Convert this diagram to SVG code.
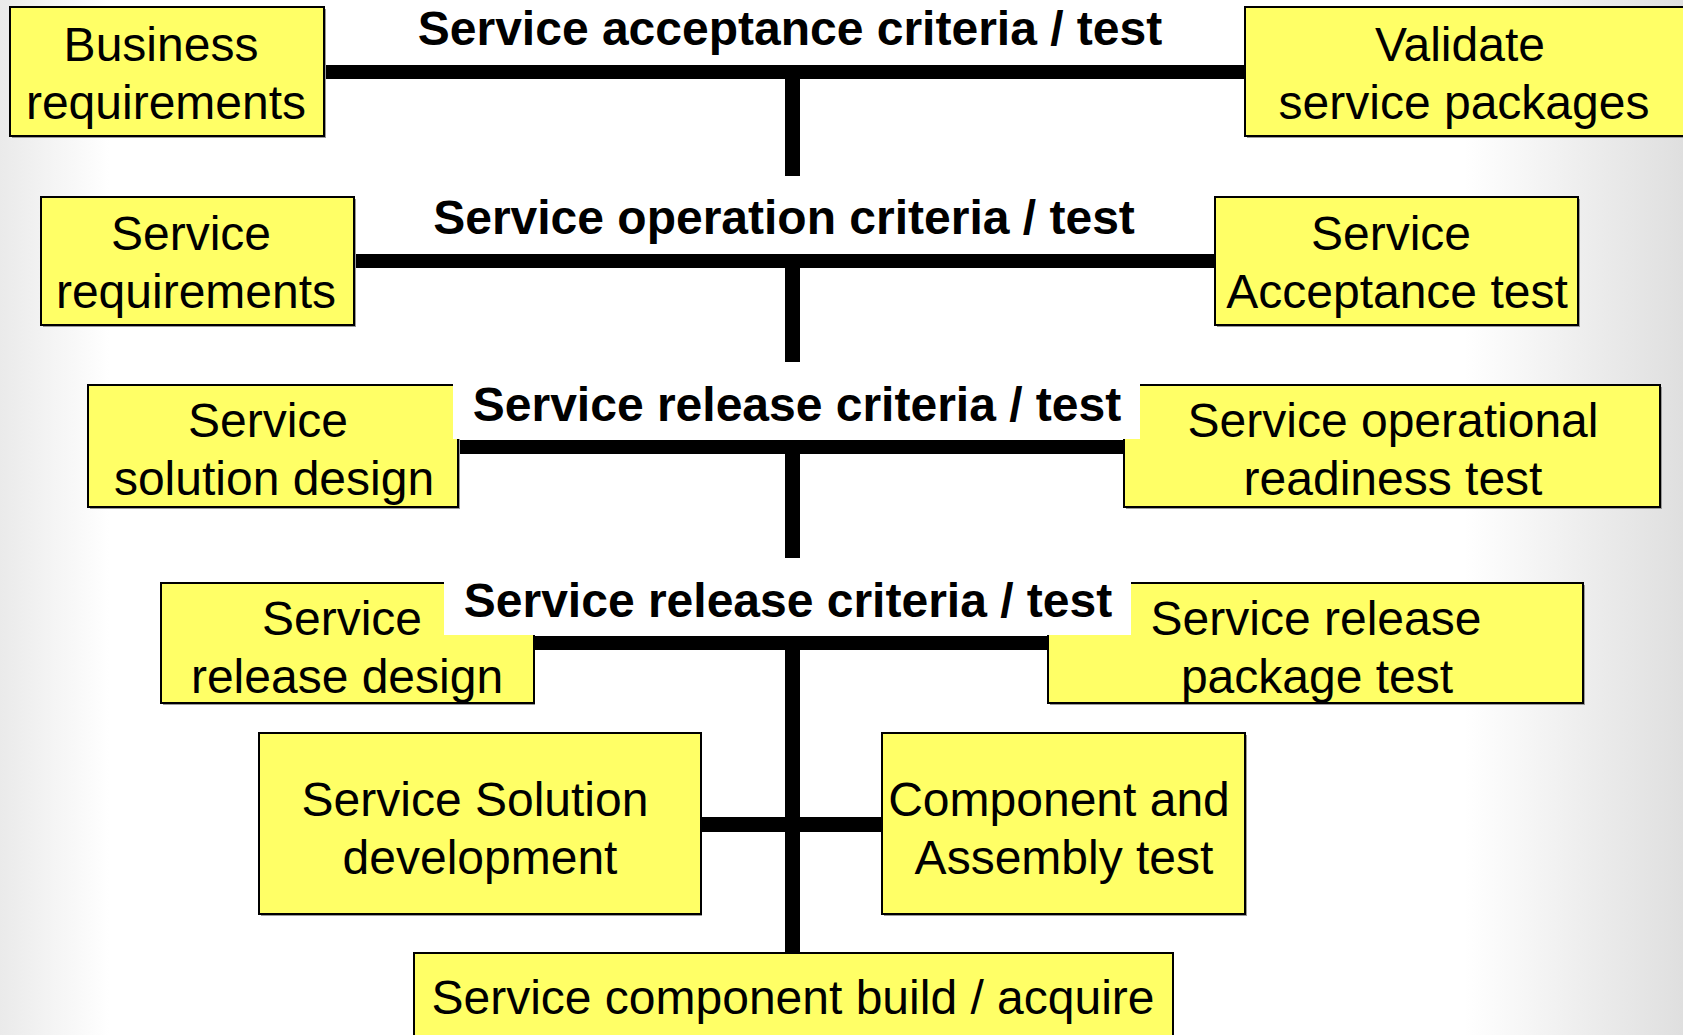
<svg xmlns="http://www.w3.org/2000/svg" width="1683" height="1035" viewBox="0 0 1683 1035">
  <defs>
    <linearGradient id="bg" x1="0" y1="0" x2="1683" y2="0" gradientUnits="userSpaceOnUse">
      <stop offset="0" stop-color="#eaeaea"/>
      <stop offset="0.065" stop-color="#ffffff"/>
      <stop offset="0.87" stop-color="#ffffff"/>
      <stop offset="1" stop-color="#dfdfdf"/>
    </linearGradient>
    <style>
      .box { fill: #ffff66; stroke: #000; stroke-width: 2; }
      .shadow { fill: #9a9a9a; }
      .t { font-family: "Liberation Sans", Arial, sans-serif; font-size: 48px; fill: #000; text-anchor: middle; }
      .title { font-family: "Liberation Sans", Arial, sans-serif; font-size: 48px; font-weight: bold; fill: #000; text-anchor: middle; }
      .bar { fill: #000; }
      .lblbg { fill: #fff; }
    </style>
  </defs>

  <!-- page background -->
  <rect x="0" y="0" width="1683" height="1035" fill="url(#bg)"/>

  <!-- connectors: horizontal bars and the central trunk -->
  <g id="connectors">
    <rect class="bar" x="324" y="65" width="921" height="14"/>
    <rect class="bar" x="785" y="79" width="15" height="97"/>
    <rect class="bar" x="354" y="254" width="861" height="14"/>
    <rect class="bar" x="785" y="268" width="15" height="94"/>
    <rect class="bar" x="458" y="440" width="666" height="14"/>
    <rect class="bar" x="785" y="454" width="15" height="104"/>
    <rect class="bar" x="534" y="636" width="514" height="14"/>
    <rect class="bar" x="701" y="817" width="181" height="15"/>
    <rect class="bar" x="785" y="650" width="15" height="303"/>
  </g>

  <g id="business-requirements">
    <rect class="shadow" x="12" y="9" width="314" height="129"/>
    <rect class="box" x="10" y="7" width="314" height="129"/>
    <text class="t" x="161" y="61">Business</text>
    <text class="t" x="166" y="119">requirements</text>
  </g>

  <g id="validate-service-packages">
    <rect class="shadow" x="1247" y="9" width="445" height="129"/>
    <rect class="box" x="1245" y="7" width="445" height="129"/>
    <text class="t" x="1460" y="61">Validate</text>
    <text class="t" x="1464" y="119">service packages</text>
  </g>

  <g id="service-requirements">
    <rect class="shadow" x="43" y="199" width="313" height="128"/>
    <rect class="box" x="41" y="197" width="313" height="128"/>
    <text class="t" x="191" y="250">Service</text>
    <text class="t" x="196" y="308">requirements</text>
  </g>

  <g id="service-acceptance-test">
    <rect class="shadow" x="1217" y="199" width="363" height="128"/>
    <rect class="box" x="1215" y="197" width="363" height="128"/>
    <text class="t" x="1391" y="250">Service</text>
    <text class="t" x="1397" y="308">Acceptance test</text>
  </g>

  <g id="service-solution-design">
    <rect class="shadow" x="90" y="387" width="370" height="122"/>
    <rect class="box" x="88" y="385" width="370" height="122"/>
    <text class="t" x="268" y="437">Service</text>
    <text class="t" x="274" y="495">solution design</text>
  </g>

  <g id="service-operational-readiness-test">
    <rect class="shadow" x="1126" y="387" width="536" height="122"/>
    <rect class="box" x="1124" y="385" width="536" height="122"/>
    <text class="t" x="1393" y="437">Service operational</text>
    <text class="t" x="1393" y="495">readiness test</text>
  </g>

  <g id="service-release-design">
    <rect class="shadow" x="163" y="585" width="372" height="120"/>
    <rect class="box" x="161" y="583" width="373" height="120"/>
    <text class="t" x="342" y="635">Service</text>
    <text class="t" x="347" y="693">release design</text>
  </g>

  <g id="service-release-package-test">
    <rect class="shadow" x="1050" y="585" width="535" height="120"/>
    <rect class="box" x="1048" y="583" width="535" height="120"/>
    <text class="t" x="1316" y="635">Service release</text>
    <text class="t" x="1317" y="693">package test</text>
  </g>

  <g id="service-solution-development">
    <rect class="shadow" x="261" y="735" width="441" height="181"/>
    <rect class="box" x="259" y="733" width="442" height="181"/>
    <text class="t" x="475" y="816">Service Solution</text>
    <text class="t" x="480" y="874">development</text>
  </g>

  <g id="component-assembly-test">
    <rect class="shadow" x="884" y="735" width="363" height="181"/>
    <rect class="box" x="882" y="733" width="363" height="181"/>
    <text class="t" x="1059" y="816">Component and</text>
    <text class="t" x="1064" y="874">Assembly test</text>
  </g>

  <g id="service-component-build">
    <rect class="box" x="414" y="953" width="759" height="95"/>
    <text class="t" x="793" y="1014">Service component build / acquire</text>
  </g>

  <!-- stage labels on the bars, each on a white plate -->
  <g id="stage-labels">
    <rect class="lblbg" x="397" y="0" width="785" height="63"/>
    <text class="title" x="790" y="45">Service acceptance criteria / test</text>
    <rect class="lblbg" x="413" y="186" width="741" height="68"/>
    <text class="title" x="784" y="234">Service operation criteria / test</text>
    <rect class="lblbg" x="453" y="372" width="687" height="67"/>
    <text class="title" x="797" y="421">Service release criteria / test</text>
    <rect class="lblbg" x="444" y="568" width="687" height="67"/>
    <text class="title" x="788" y="617">Service release criteria / test</text>
  </g>
</svg>
